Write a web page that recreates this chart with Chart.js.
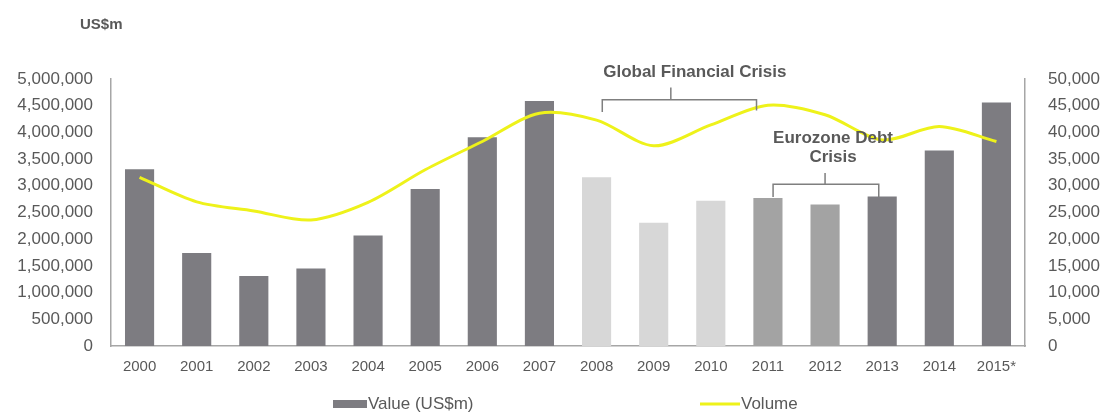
<!DOCTYPE html>
<html>
<head>
<meta charset="utf-8">
<script src="https://cdn.jsdelivr.net/npm/chart.js@4/dist/chart.umd.min.js"></script>
<style>
  html, body { margin: 0; padding: 0; background: #fff; }
  #wrap { position: relative; width: 1108px; height: 414px; }
</style>
</head>
<body>
<div id="wrap"><canvas id="myChart" width="1108" height="414"></canvas></div>
<script>
const years = ['2000', '2001', '2002', '2003', '2004', '2005', '2006', '2007',
    '2008', '2009', '2010', '2011', '2012', '2013', '2014', '2015*']
const value_usdm = [3310000, 1740000, 1310000, 1450000, 2070000, 2940000, 3910000, 4590000,
    3160000, 2310000, 2720000, 2770000, 2650000, 2800000, 3660000, 4560000]
const volume = [31600, 27000, 25300, 23600, 26900, 33000, 38300, 43600,
    42300, 37500, 41400, 45100, 43300, 38600, 41100, 38300]
const bar_colors = ['#7d7c81', '#7d7c81', '#7d7c81', '#7d7c81', '#7d7c81', '#7d7c81', '#7d7c81', '#7d7c81',
    '#d7d7d7', '#d7d7d7', '#d7d7d7', '#a3a3a3', '#a3a3a3', '#7d7c81', '#7d7c81', '#7d7c81']

// crisis brackets: from / to in category index, heights in left axis units
const crises = [
    { lines: ['Global Financial Crisis'], from: 8.1, to: 10.8, mid: 9.3,
      bar: 4610000, leftDrop: 4380000, rightDrop: 4410000, top: 4840000, text: [5130000], textX: 9.72 },
    { lines: ['Eurozone Debt', 'Crisis'], from: 11.09, to: 12.94, mid: 12.0,
      bar: 3030000, leftDrop: 2790000, rightDrop: 2790000, top: 3240000, text: [3880000, 3540000], textX: 12.14 },
]

const GREY_TEXT = '#595959'
const AXIS_GREY = '#a6a6a6'
const FONT = 'Arial, "Liberation Sans", sans-serif'

const annotatePlugin = {
    id: 'annotate',
    afterDatasetsDraw(chart) {
        const ctx = chart.ctx
        const x = chart.scales.x
        const y = chart.scales.y
        ctx.save()
        for (let c of crises) {
            let x0 = x.getPixelForValue(c.from), x1 = x.getPixelForValue(c.to)
            let xm = x.getPixelForValue(c.mid)
            let yb = y.getPixelForValue(c.bar)
            ctx.strokeStyle = '#7f7f7f'
            ctx.lineWidth = 1.5
            ctx.beginPath()
            ctx.moveTo(x0, y.getPixelForValue(c.leftDrop))
            ctx.lineTo(x0, yb)
            ctx.lineTo(x1, yb)
            ctx.lineTo(x1, y.getPixelForValue(c.rightDrop))
            ctx.moveTo(xm, yb)
            ctx.lineTo(xm, y.getPixelForValue(c.top))
            ctx.stroke()
            ctx.fillStyle = GREY_TEXT
            ctx.font = 'bold 17px ' + FONT
            ctx.textAlign = 'center'
            ctx.textBaseline = 'middle'
            c.lines.forEach((t, i) => {
                ctx.fillText(t, x.getPixelForValue(c.textX), y.getPixelForValue(c.text[i]))
            })
        }
        // unit label
        ctx.font = 'bold 15px ' + FONT
        ctx.textAlign = 'left'
        ctx.fillText('US$m', 80, 25)

        // legend
        ctx.font = '17px ' + FONT
        ctx.textBaseline = 'middle'
        const ds = chart.data.datasets
        const ly = 404
        ctx.fillStyle = '#7d7c81'
        ctx.fillRect(333, ly - 4, 34, 8)
        ctx.fillStyle = GREY_TEXT
        ctx.fillText(ds[1].label, 368, ly)
        ctx.strokeStyle = ds[0].borderColor
        ctx.lineWidth = 3
        ctx.beginPath()
        ctx.moveTo(700, ly)
        ctx.lineTo(740, ly)
        ctx.stroke()
        ctx.fillText(ds[0].label, 741, ly)
        ctx.restore()
    }
}

const config = {
    type: 'bar',
    data: {
        labels: years,
        datasets: [
            {
                type: 'line',
                label: 'Volume',
                data: volume,
                yAxisID: 'y1',
                borderColor: '#eef21a',
                borderWidth: 3,
                pointRadius: 0,
                tension: 0.3,
                order: 0,
            },
            {
                label: 'Value (US$m)',
                data: value_usdm,
                yAxisID: 'y',
                backgroundColor: bar_colors,
                categoryPercentage: 1,
                barPercentage: 0.51,
                order: 1,
            },
        ]
    },
    options: {
        responsive: false,
        animation: false,
        plugins: {
            legend: { display: false },
            tooltip: { enabled: false },
        },
        layout: {
            padding: { top: 79, left: 0, right: 0, bottom: 0 }
        },
        scales: {
            x: {
                grid: { display: false, drawTicks: false },
                border: { color: AXIS_GREY, width: 1.5 },
                ticks: { color: GREY_TEXT, font: { size: 15, family: FONT }, padding: 12, maxRotation: 0 },
                afterFit: (s) => { s.height = 68 },
            },
            y: {
                position: 'left',
                min: 0,
                max: 5000000,
                grid: { display: false, drawTicks: false },
                border: { color: AXIS_GREY, width: 1.5 },
                ticks: {
                    stepSize: 500000,
                    color: GREY_TEXT,
                    font: { size: 17, family: FONT },
                    padding: 18,
                    callback: (v) => v.toLocaleString('en-US'),
                },
                afterFit: (s) => { s.width = 111 },
            },
            y1: {
                position: 'right',
                min: 0,
                max: 50000,
                grid: { display: false, drawTicks: false },
                border: { color: AXIS_GREY, width: 1.5 },
                ticks: {
                    stepSize: 5000,
                    color: GREY_TEXT,
                    font: { size: 17, family: FONT },
                    padding: 23,
                    callback: (v) => v.toLocaleString('en-US'),
                },
                afterFit: (s) => { s.width = 83 },
            },
        }
    },
    plugins: [annotatePlugin]
}

new Chart(document.getElementById('myChart').getContext('2d'), config)
</script>
</body>
</html>
